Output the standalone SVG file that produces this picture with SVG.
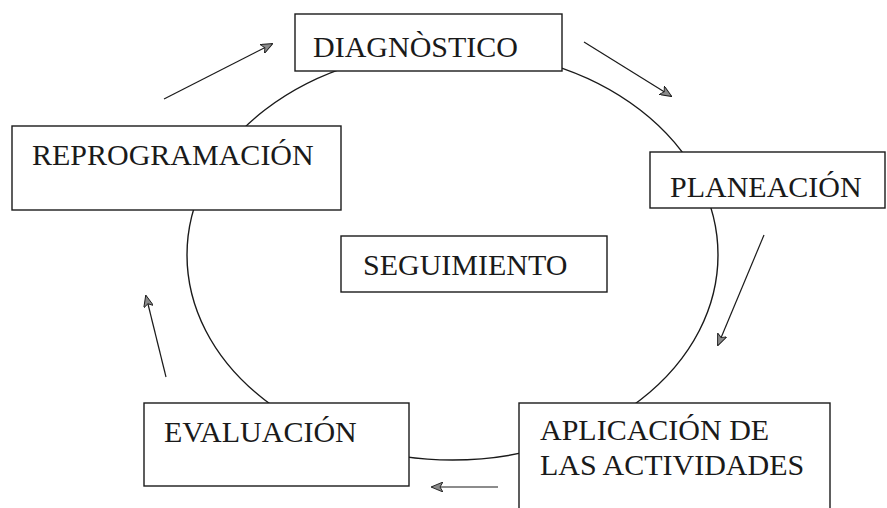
<svg xmlns="http://www.w3.org/2000/svg" width="887" height="508" viewBox="0 0 887 508">
<style>
.box{fill:#fff;stroke:#1a1a1a;stroke-width:1.4}
.lbl{font-family:"Liberation Serif","Times New Roman",serif;font-size:30px;fill:#1a1a1a}
.cyc{fill:none;stroke:#1a1a1a;stroke-width:1.4}
.arr{fill:none;stroke:#1a1a1a;stroke-width:1.2;marker-end:url(#ah)}
</style>
<defs>
<marker id="ah" viewBox="0 0 12 10" refX="11" refY="5" markerWidth="12" markerHeight="10" markerUnits="userSpaceOnUse" orient="auto">
<path d="M0,0 L12,5 L0,10 L3,5 Z" fill="#8a8a8a" stroke="#1a1a1a" stroke-width="0.9"/>
</marker>
</defs>
<rect width="887" height="508" fill="#fff"/>
<g id="connectors">
<ellipse class="cyc" cx="452.5" cy="255" rx="265.5" ry="205"/>
<line class="arr" x1="164" y1="99" x2="272" y2="44"/>
<line class="arr" x1="584" y1="42" x2="671" y2="96"/>
<line class="arr" x1="764" y1="235" x2="718" y2="345"/>
<line class="arr" x1="498" y1="487" x2="432" y2="487"/>
<line class="arr" x1="166" y1="377" x2="146" y2="296"/>
</g>
<g id="diagnostico">
<rect class="box" x="295" y="14" width="267" height="57"/>
<text class="lbl" x="313" y="57">DIAGNÒSTICO</text>
</g>
<g id="planeacion">
<rect class="box" x="650" y="152" width="235" height="56"/>
<text class="lbl" x="670" y="197">PLANEACIÓN</text>
</g>
<g id="aplicacion">
<rect class="box" x="519" y="403" width="311" height="120"/>
<text class="lbl" x="540" y="440">APLICACIÓN DE</text>
<text class="lbl" x="540" y="475">LAS ACTIVIDADES</text>
</g>
<g id="evaluacion">
<rect class="box" x="144" y="403" width="265" height="83"/>
<text class="lbl" x="164" y="442">EVALUACIÓN</text>
</g>
<g id="reprogramacion">
<rect class="box" x="12" y="126" width="329" height="84"/>
<text class="lbl" x="32" y="165">REPROGRAMACIÓN</text>
</g>
<g id="seguimiento">
<rect class="box" x="341" y="236" width="266" height="56"/>
<text class="lbl" x="363" y="275">SEGUIMIENTO</text>
</g>
</svg>
